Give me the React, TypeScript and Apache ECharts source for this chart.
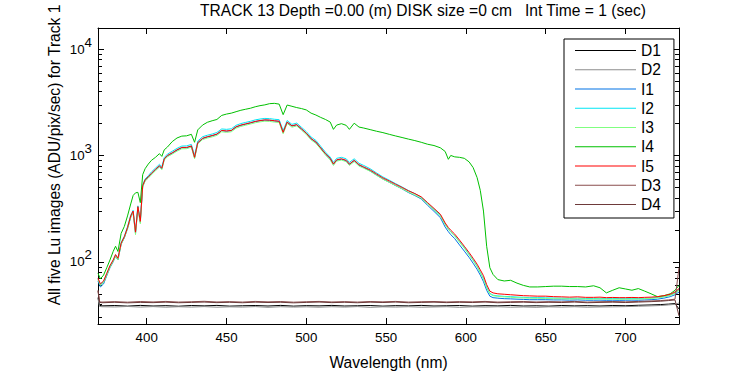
import React, { useEffect, useRef } from "react";
import * as echarts from "echarts";

const FONT = "'Liberation Sans', Arial, Helvetica, sans-serif";

const TITLE = "TRACK 13 Depth =0.00 (m) DISK size =0 cm   Int Time = 1 (sec)";
const Y_NAME = "All five Lu images (ADU/pix/sec) for Track 1";
const X_NAME = "Wavelength (nm)";

const X_MIN = 369.5;
const X_MAX = 733.5;
const Y_MIN = 26;
const Y_MAX = 15800;

const minorTickValues = [30, 40, 50, 60, 70, 80, 90, 200, 300, 400, 500, 600, 700, 800, 900, 2000, 3000, 4000, 5000, 6000, 7000, 8000, 9000];

const wl = [
  369.5, 371, 373, 375, 377, 379, 380.5, 382, 384, 386,
  388, 390, 391.5, 393, 394.5, 396, 397.5, 399, 401, 403,
  405.5, 408, 409.5, 411, 413, 416, 419, 422, 425, 428,
  430, 432, 435, 438, 441, 444, 447, 450, 453, 456,
  459, 462, 465, 468, 471, 474, 477, 480, 483, 485.5,
  488, 491, 494, 497, 500, 503, 506, 509, 512, 515,
  517, 519, 522, 525, 527, 530, 533, 536, 540, 544,
  548, 552, 556, 560, 564, 568, 572, 576, 580, 584,
  587, 589, 590.5, 593, 596, 599, 602, 604.5, 607, 609,
  611, 613, 615, 617, 620, 624, 628, 632, 636, 640,
  645, 650, 655, 660, 665, 670, 675, 680, 684, 688,
  692, 696, 700, 704, 708, 712, 716, 720, 724, 728,
  731, 733.5,
];

const I5 = [
  70, 62, 66, 78, 92, 104, 117, 108, 150, 172,
  210, 270, 300, 190, 330, 240, 520, 590, 630, 680,
  740, 800, 760, 930, 1000, 1060, 1130, 1190, 1190, 1230,
  960, 1320, 1450, 1500, 1540, 1590, 1720, 1700, 1720, 1860,
  1930, 1980, 2030, 2090, 2130, 2160, 2150, 2120, 2100, 1650,
  2060, 1900, 1950, 1780, 1620, 1440, 1340, 1180, 1040, 940,
  830, 910, 930, 900, 830, 900, 820, 780, 730, 670,
  615, 575, 535, 500, 465, 438, 408, 360, 318, 280,
  232, 210, 198, 182, 160, 140, 122, 108, 95, 84,
  74, 61, 53, 51, 50, 49.5, 49, 48.5, 48, 47.8,
  47.5, 47.5, 47, 46.8, 46.5, 46.8, 46.3, 46.3, 46.5, 46,
  46.2, 46, 46, 46.2, 46, 46.3, 46.5, 47, 48, 49.5,
  52, 56,
];

const I4 = [
  78, 69, 75, 88, 104, 125, 140, 125, 185, 215,
  270, 350, 420, 445, 450, 360, 660, 750, 830, 900,
  960, 1040, 980, 1130, 1200, 1350, 1460, 1520, 1530, 1580,
  1330, 1740, 1930, 2050, 2120, 2180, 2380, 2450, 2500, 2580,
  2660, 2720, 2780, 2870, 2940, 2990, 3070, 3090, 3040, 2420,
  2980, 2900, 2820, 2760, 2680, 2500, 2400, 2280, 2180, 2060,
  1760, 1930, 1990, 1920, 1760, 2010, 1850, 1810, 1750, 1690,
  1640, 1580, 1525, 1475, 1425, 1380, 1330, 1275, 1240, 1180,
  1090, 920, 1000, 970, 960, 940, 870, 770, 620, 470,
  300, 140, 88, 76, 68, 66, 67, 63, 60, 58,
  58, 58.5, 59, 59, 58.5, 58.5, 58, 59.5, 57, 51,
  54, 57, 55.5, 54, 56, 53, 50, 47, 48, 50,
  54, 60,
];

const I1 = [
  66, 58, 62, 74, 88, 100, 113, 104, 146, 168,
  205, 262, 292, 185, 322, 235, 510, 580, 620, 670,
  730, 790, 750, 920, 990, 1050, 1120, 1180, 1180, 1220,
  950, 1310, 1440, 1490, 1530, 1580, 1710, 1690, 1710, 1850,
  1920, 1970, 2020, 2080, 2120, 2150, 2140, 2110, 2090, 1640,
  2050, 1890, 1940, 1770, 1610, 1430, 1330, 1170, 1030, 930,
  825, 900, 920, 890, 825, 890, 810, 770, 715, 655,
  600, 560, 520, 485, 448, 420, 390, 340, 298, 260,
  212, 192, 180, 165, 144, 126, 110, 97, 85, 75,
  65, 54, 47.5, 46, 45.5, 45, 44.8, 44.5, 44.3, 44,
  44, 44, 43.8, 43.8, 43.6, 43.8, 43.5, 43.5, 43.6, 43.4,
  43.5, 43.4, 43.5, 43.6, 43.5, 43.8, 44, 44.5, 45.5, 47,
  49, 52,
];

const I2 = [
  69, 61, 65, 77, 91, 103, 116, 107, 152, 174,
  214, 275, 305, 195, 336, 246, 530, 600, 645, 700,
  760, 825, 785, 955, 1030, 1095, 1165, 1225, 1230, 1270,
  1000, 1365, 1500, 1550, 1590, 1645, 1775, 1760, 1780, 1920,
  1995, 2045, 2095, 2160, 2200, 2230, 2220, 2190, 2170, 1710,
  2130, 1960, 2015, 1840, 1675, 1490, 1385, 1220, 1075, 965,
  860, 940, 960, 930, 860, 930, 845, 805, 750, 685,
  628, 585, 543, 505, 468, 438, 405, 355, 312, 274,
  226, 204, 192, 176, 155, 136, 118, 104, 91, 80,
  70, 58, 50.5, 48.5, 47.8, 47.3, 47, 46.6, 46.3, 46,
  46, 45.8, 45.6, 45.5, 45.3, 45.5, 45.2, 45.2, 45.3, 45,
  45.2, 45, 45, 45.2, 45, 45.3, 45.6, 46.2, 47, 48.5,
  51, 55,
];

const I3 = [
  68, 60, 64, 75, 89, 101, 113, 104, 146, 168,
  204, 262, 290, 180, 320, 228, 505, 575, 612, 660,
  718, 778, 735, 905, 972, 1030, 1098, 1155, 1158, 1195,
  930, 1285, 1410, 1458, 1495, 1545, 1670, 1650, 1670, 1805,
  1875, 1925, 1975, 2030, 2070, 2100, 2090, 2060, 2040, 1600,
  2000, 1845, 1895, 1730, 1575, 1400, 1300, 1148, 1010, 905,
  805, 885, 905, 875, 805, 875, 795, 758, 710, 650,
  598, 558, 520, 486, 452, 425, 396, 350, 308, 270,
  224, 202, 190, 175, 153, 134, 116, 103, 90, 79,
  69, 57, 50, 48, 47.3, 46.8, 46.4, 46, 45.7, 45.5,
  45.3, 45.2, 45, 44.9, 44.7, 44.9, 44.6, 44.6, 44.8, 44.5,
  44.6, 44.5, 44.5, 44.7, 44.6, 44.9, 45.2, 45.8, 46.8, 48.2,
  50.5, 54,
];

const darkWl = [
  369.5, 370.5, 372, 380, 388, 396, 404, 412, 420, 428,
  436, 444, 452, 460, 468, 476, 484, 492, 500, 508,
  516, 524, 532, 540, 548, 556, 564, 572, 580, 588,
  596, 604, 612, 620, 628, 636, 644, 652, 660, 668,
  676, 684, 692, 700, 708, 716, 722, 727, 731, 733.5,
];

const D1 = [
  46, 39, 38.5, 38.8, 38.3, 38.9, 38.4, 38.7, 38.2, 38.8,
  38.5, 38.9, 38.3, 38.6, 38.8, 38.4, 38.9, 38.3, 38.7, 38.5,
  38.9, 38.4, 38.6, 38.8, 38.3, 38.7, 38.5, 38.9, 38.4, 38.6,
  38.8, 38.3, 38.7, 38.5, 38.9, 38.4, 38.6, 38.3, 38.8, 38.5,
  38.7, 38.4, 38.8, 38.6, 39, 39.3, 39.6, 40, 40.5, 36,
];

const D2 = [
  45, 38, 37.8, 37.6, 38, 37.5, 37.9, 37.4, 37.8, 37.5,
  37.9, 37.4, 37.7, 37.5, 37.9, 37.3, 37.8, 37.5, 37.7, 37.4,
  37.8, 37.5, 37.9, 37.3, 37.7, 37.5, 37.8, 37.4, 37.6, 37.8,
  37.3, 37.7, 37.5, 37.8, 37.4, 37.6, 37.3, 37.7, 37.5, 37.8,
  37.4, 37.6, 37.7, 37.9, 38.2, 38.5, 38.8, 39.3, 39.8, 41,
];

const D3 = [
  54, 42, 41.8, 42.2, 41.7, 42.3, 41.9, 42.4, 41.8, 42.1,
  42.5, 41.9, 42.2, 41.8, 42.4, 42, 42.3, 41.7, 42.1, 42.4,
  41.9, 42.2, 41.8, 42.3, 42, 42.4, 41.8, 42.1, 42.3, 41.9,
  42.2, 42, 42.4, 41.8, 42.1, 42.3, 41.9, 42.2, 42, 42.4,
  41.8, 42.1, 42.3, 42, 42.4, 42.8, 43.2, 43.8, 44.5, 88,
];

const D4 = [
  53, 41.5, 41.2, 41.6, 41.1, 41.5, 41.3, 41.7, 41.2, 41.5,
  41.8, 41.3, 41.6, 41.2, 41.7, 41.4, 41.6, 41.1, 41.5, 41.8,
  41.3, 41.6, 41.2, 41.7, 41.4, 41.8, 41.2, 41.5, 41.7, 41.3,
  41.6, 41.4, 41.8, 41.2, 41.5, 41.7, 41.3, 41.6, 41.4, 41.8,
  41.2, 41.5, 41.7, 41.4, 41.8, 42.2, 42.6, 43.2, 43.8, 31,
];

const seriesDefs = [
  { name: "D1", x: darkWl, y: D1, color: "#000000" },
  { name: "D2", x: darkWl, y: D2, color: "#8c8c8c" },
  { name: "I1", x: wl, y: I1, color: "#0073e6" },
  { name: "I2", x: wl, y: I2, color: "#00e6f5" },
  { name: "I3", x: wl, y: I3, color: "#80ff80" },
  { name: "I4", x: wl, y: I4, color: "#00c000" },
  { name: "I5", x: wl, y: I5, color: "#ff0000" },
  { name: "D3", x: darkWl, y: D3, color: "#8a4e4e" },
  { name: "D4", x: darkWl, y: D4, color: "#6e3a3a" },
];

export default function App() {
  const ref = useRef<HTMLDivElement>(null);
  useEffect(() => {
    if (!ref.current) return;
    const chart = echarts.init(ref.current, null, { renderer: "svg" });
    const axisLineStyle = { color: "#000", width: 1 };
    const lineSeries = seriesDefs.map((s) => ({
      name: s.name,
      type: "line",
      xAxisIndex: 0,
      yAxisIndex: 0,
      symbol: "none",
      showSymbol: false,
      data: s.x.map((x, i) => [x, s.y[i]]),
      lineStyle: { width: 1, color: s.color },
      itemStyle: { color: s.color },
      emphasis: { disabled: true },
    }));
    chart.setOption({
      animation: false,
      backgroundColor: "#ffffff",
      title: {
        text: TITLE,
        left: 200,
        top: 2,
        padding: 0,
        textStyle: { fontFamily: FONT, fontSize: 15.6, fontWeight: "normal", color: "#000" },
      },
      grid: { left: 98, right: 71, top: 28, bottom: 44, containLabel: false },
      legend: {
        orient: "vertical",
        left: 564,
        top: 39,
        data: seriesDefs.map((s) => ({ name: s.name, icon: "rect" })),
        icon: "rect",
        itemWidth: 61,
        itemHeight: 1,
        itemGap: 2.25,
        padding: [3, 13, 5, 11],
        borderColor: "#000",
        borderWidth: 1,
        backgroundColor: "#fff",
        selectedMode: false,
        textStyle: { fontFamily: FONT, fontSize: 15.6, color: "#000", lineHeight: 17 },
      },
      xAxis: [
        {
          type: "value",
          min: X_MIN,
          max: X_MAX,
          minInterval: 50,
          maxInterval: 50,
          position: "bottom",
          name: X_NAME,
          nameLocation: "middle",
          nameGap: 30,
          nameTextStyle: { fontFamily: FONT, fontSize: 15.6, color: "#000" },
          axisLine: { show: true, onZero: false, lineStyle: axisLineStyle },
          axisTick: { show: true, inside: true, length: 6, lineStyle: axisLineStyle },
          axisLabel: {
            showMinLabel: false,
            showMaxLabel: false,
            margin: 7,
            fontFamily: FONT,
            fontSize: 13.3,
            color: "#000",
          },
          splitLine: { show: false },
        },
        {
          type: "value",
          min: X_MIN,
          max: X_MAX,
          minInterval: 50,
          maxInterval: 50,
          position: "top",
          axisLine: { show: true, onZero: false, lineStyle: axisLineStyle },
          axisTick: { show: true, inside: true, length: 6, lineStyle: axisLineStyle },
          axisLabel: { show: false },
          splitLine: { show: false },
        },
      ],
      yAxis: [
        {
          type: "log",
          logBase: 10,
          min: Y_MIN,
          max: Y_MAX,
          position: "left",
          axisLine: { show: true, onZero: false, lineStyle: axisLineStyle },
          axisTick: { show: true, inside: true, length: 6, lineStyle: axisLineStyle },
          axisLabel: {
            showMinLabel: false,
            showMaxLabel: false,
            margin: 6,
            formatter: (v: number) => "{a|10}{b|" + Math.round(Math.log10(v)) + "}",
            rich: {
              a: { fontFamily: FONT, fontSize: 13.3, color: "#000" },
              b: { fontFamily: FONT, fontSize: 13.3, color: "#000", padding: [0, 0, 14, 0] },
            },
          },
          splitLine: { show: false },
        },
        {
          type: "log",
          logBase: 10,
          min: Y_MIN,
          max: Y_MAX,
          position: "right",
          axisLine: { show: true, onZero: false, lineStyle: axisLineStyle },
          axisTick: { show: true, inside: true, length: 6, lineStyle: axisLineStyle },
          axisLabel: { show: false },
          splitLine: { show: false },
        },
      ],
      graphic: [
        {
          type: "text",
          x: 54,
          y: 155,
          rotation: Math.PI / 2,
          style: {
            text: Y_NAME,
            fontFamily: FONT,
            fontSize: 15.6,
            fill: "#000",
            align: "center",
            verticalAlign: "middle",
          },
        },
      ],
      series: [
        ...lineSeries,
        {
          name: "minorTicks",
          type: "custom",
          xAxisIndex: 0,
          yAxisIndex: 0,
          silent: true,
          clip: false,
          data: minorTickValues.map((v) => [X_MIN, v]),
          renderItem: (_p: any, api: any) => {
            const v = api.value(1);
            const pl = api.coord([X_MIN, v]);
            const pr = api.coord([X_MAX, v]);
            const y = Math.round(pl[1]) + 0.5;
            return {
              type: "group",
              children: [
                { type: "line", shape: { x1: pl[0], y1: y, x2: pl[0] + 4, y2: y }, style: { stroke: "#000", lineWidth: 1 } },
                { type: "line", shape: { x1: pr[0], y1: y, x2: pr[0] - 4, y2: y }, style: { stroke: "#000", lineWidth: 1 } },
              ],
            };
          },
        },
      ],
    });
    return () => chart.dispose();
  }, []);
  return (
    <div
      ref={ref}
      style={{ position: "fixed", left: 0, top: 0, width: 750, height: 375, background: "#fff" }}
    />
  );
}
